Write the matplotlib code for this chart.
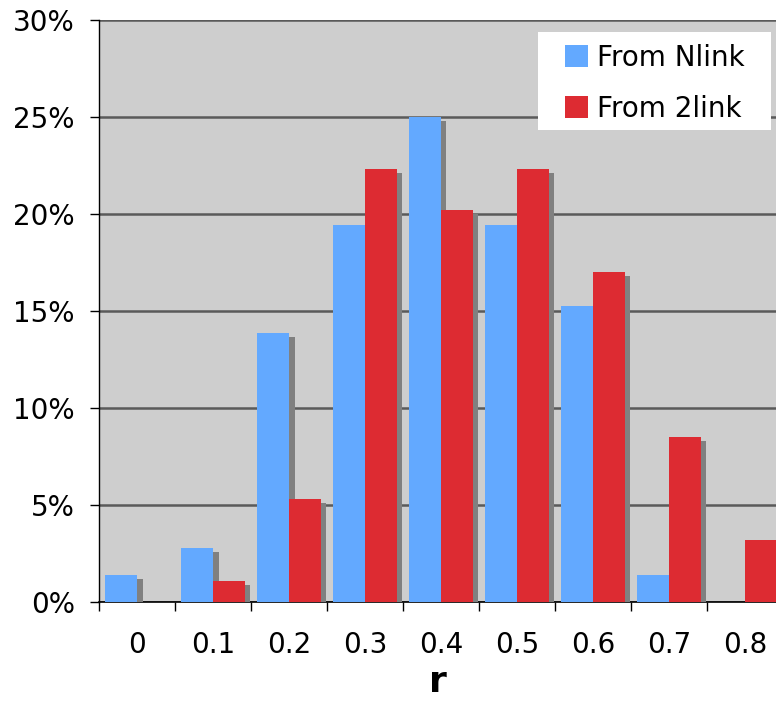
import matplotlib
matplotlib.use("Agg")
import matplotlib.pyplot as plt
import matplotlib.patheffects as pe
from matplotlib.patches import Patch, Rectangle
import numpy as np

# distribution of r, as share of each group
r_bins = ["0", "0.1", "0.2", "0.3", "0.4", "0.5", "0.6", "0.7", "0.8"]
from_nlink = [1.39, 2.78, 13.89, 19.44, 25.00, 19.44, 15.28, 1.39, 0.0]
from_2link = [0.0, 1.06, 5.32, 22.34, 20.21, 22.34, 17.02, 8.51, 3.19]

blue = '#63a9ff'
red = '#dd2b32'

plt.rcParams['font.family'] = ['DejaVu Sans']

fig = plt.figure(figsize=(7.76, 7.06), dpi=100)
ax = fig.add_axes([0.1276, 0.1473, 0.8724, 0.8244])
ax.set_facecolor('#cecece')

x = np.arange(len(r_bins))
w = 0.42
shadow = [pe.SimplePatchShadow(offset=(4, -2.9), shadow_rgbFace='#808080', alpha=1.0), pe.Normal()]
ax.bar(x - w / 2, from_nlink, w, color=blue, linewidth=0, zorder=3, path_effects=shadow)
ax.bar(x + w / 2, from_2link, w, color=red, linewidth=0, zorder=3, path_effects=shadow)

ax.set_ylim(0, 30)
ax.set_xlim(-0.5, 8.41)
ax.set_yticks(np.arange(0, 31, 5))
ax.set_yticklabels([f"{v}%" for v in range(0, 31, 5)])
ax.yaxis.grid(True, color='#5a5a5a', linewidth=1.8, zorder=1)
ax.set_axisbelow(True)

ax.set_xticks(x)
ax.set_xticklabels(r_bins)
ax.set_xticks(np.arange(-0.5, 8.5, 1), minor=True)
ax.tick_params(axis='x', which='major', length=0, pad=21, labelsize=20)
ax.tick_params(axis='x', which='minor', length=6.5, width=1, direction='out')
ax.tick_params(axis='y', length=6.5, width=1, pad=11, labelsize=20)

for s in ['top', 'right']:
    ax.spines[s].set_visible(False)
ax.spines['left'].set_linewidth(1)
ax.spines['bottom'].set_linewidth(1.2)

ax.set_xlabel('r', fontsize=26, fontweight='bold', labelpad=4)

# white legend box, legend itself drawn without a frame
ax.add_patch(Rectangle((0.648, 0.811), 0.345, 0.168, transform=ax.transAxes,
                       facecolor='white', edgecolor='none', zorder=5))
handles = [Patch(facecolor=blue, linewidth=0), Patch(facecolor=red, linewidth=0)]
leg = ax.legend(handles, ['From Nlink', 'From 2link'], loc='upper left',
                bbox_to_anchor=(0.688, 0.959), fontsize=20, frameon=False,
                handlelength=0.85, handleheight=0.85, handletextpad=0.3,
                labelspacing=0.82, borderpad=0, borderaxespad=0)
leg.set_zorder(6)

fig.savefig('out.png', dpi=100)
